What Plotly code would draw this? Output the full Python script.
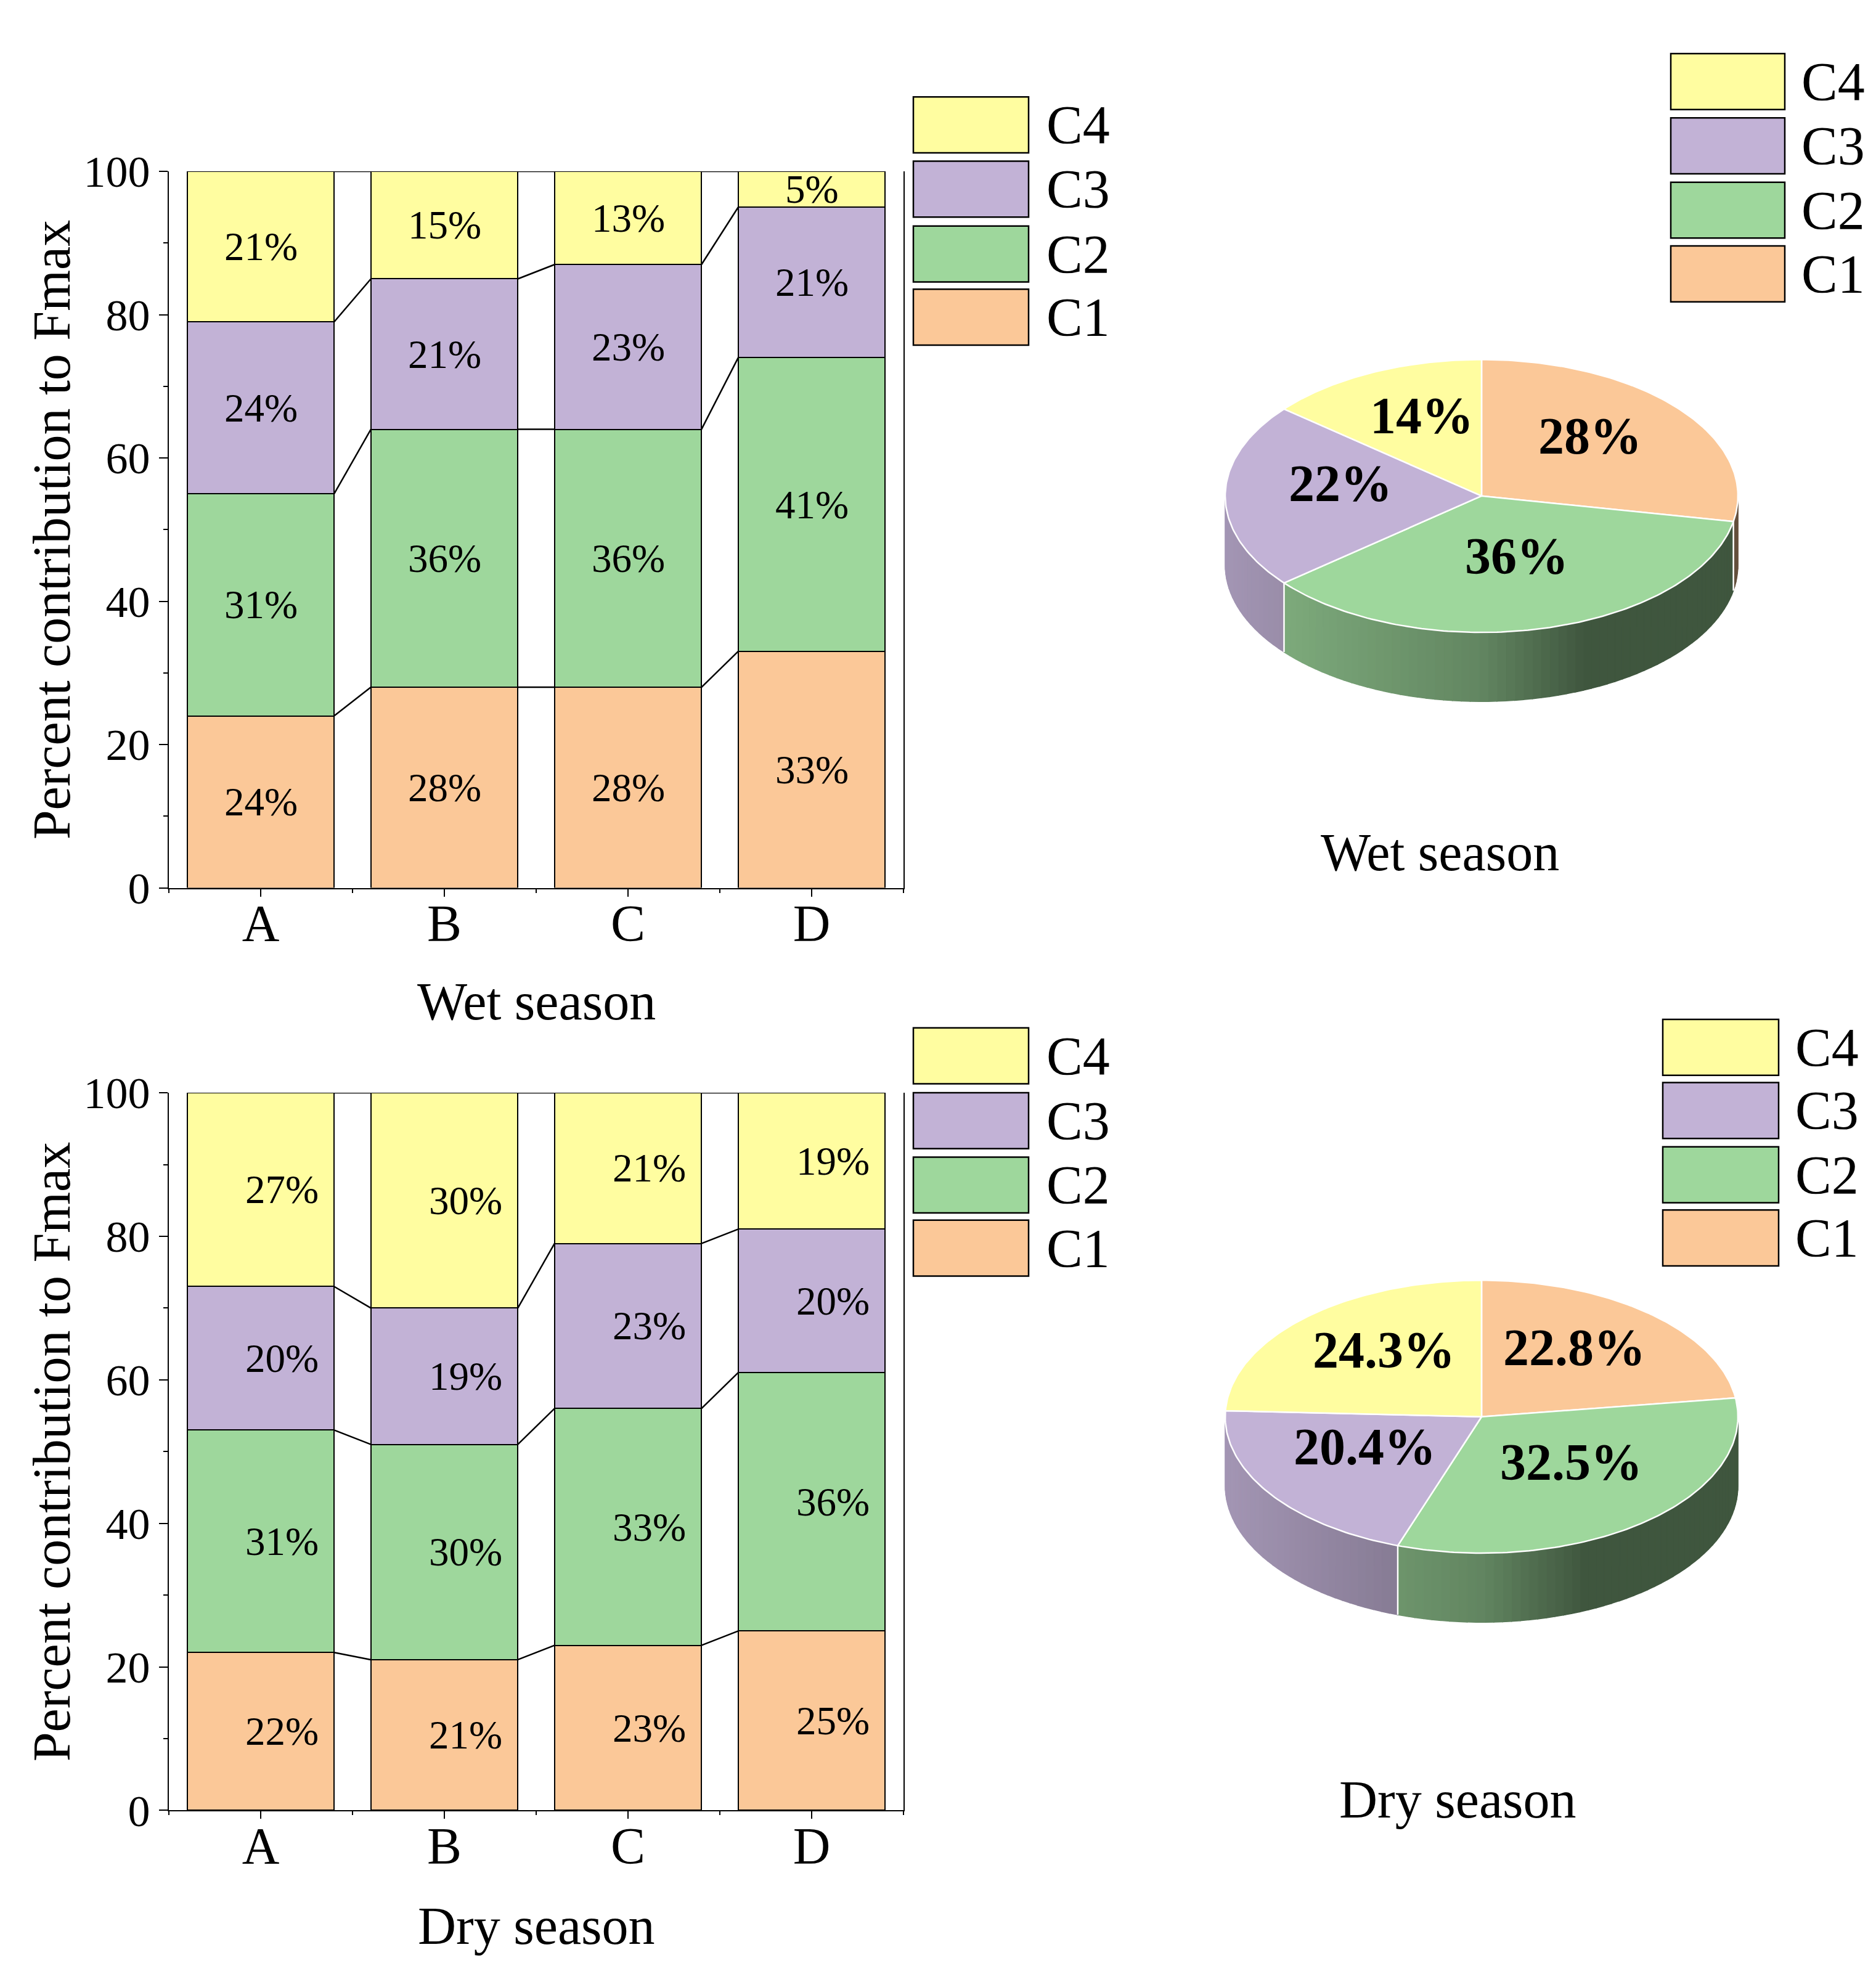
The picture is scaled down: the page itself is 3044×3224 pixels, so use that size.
import numpy as np
import plotly.graph_objects as go

# ---------------- data ----------------
categories = ["A", "B", "C", "D"]
series = ["C1", "C2", "C3", "C4"]

wet_C1 = [24, 28, 28, 33]
wet_C2 = [31, 36, 36, 41]
wet_C3 = [24, 21, 23, 21]
wet_C4 = [21, 15, 13, 5]

dry_C1 = [22, 21, 23, 25]
dry_C2 = [31, 30, 33, 36]
dry_C3 = [20, 19, 23, 20]
dry_C4 = [27, 30, 21, 19]

wet_pie = [28, 36, 22, 14]
dry_pie = [22.8, 32.5, 20.4, 24.3]

y_ticks = [0, 20, 40, 60, 80, 100]

# ---------------- style ----------------
COLORS = {"C1": (251, 200, 152), "C2": (158, 215, 156),
          "C3": (194, 178, 214), "C4": (255, 253, 160)}
FONT = "Liberation Serif"
W, H = 3044, 3224
LW = 2


def rgb(c, f=1.0):
    return "rgb(%d,%d,%d)" % tuple(int(round(v * f)) for v in c)


def px_x(p):
    return p / W


def px_y(p):
    return 1 - p / H


def paper_text(x, y, text, size, xanchor="center", **kw):
    return dict(x=px_x(x), y=px_y(y), xref="paper", yref="paper", text=text,
                showarrow=False, xanchor=xanchor, yanchor="middle",
                font=dict(family=FONT, size=size, color="black"), **kw)


fig = go.Figure()
annotations = []
shapes = []

BAR_W = 0.8

# ---------------- stacked bar panels ----------------
panels = [
    dict(ax="x", ay="y", data=[wet_C1, wet_C2, wet_C3, wet_C4], top=237, bottom=1429,
         title="Wet season", title_y=1618, xshift=0),
    dict(ax="x2", ay="y2", data=[dry_C1, dry_C2, dry_C3, dry_C4], top=1770, bottom=2964,
         title="Dry season", title_y=3156, xshift=34),
]
xidx = list(range(len(categories)))

for p in panels:
    cum = np.zeros(len(categories))
    levels = []
    for name, vals in zip(series, p["data"]):
        fig.add_trace(go.Bar(
            x=xidx, y=vals, name=name, width=BAR_W,
            marker=dict(color=rgb(COLORS[name]), line=dict(color="black", width=LW)),
            xaxis=p["ax"], yaxis=p["ay"], showlegend=False, hoverinfo="skip"))
        for i, v in enumerate(vals):
            annotations.append(dict(
                x=xidx[i], y=cum[i] + v / 2, xref=p["ax"], yref=p["ay"],
                text=f"{v}%", showarrow=False, xshift=p["xshift"],
                xanchor="center", yanchor="middle",
                font=dict(family=FONT, size=65, color="black")))
        cum = cum + np.array(vals)
        levels.append(cum.copy())
    # connector lines between adjacent bars
    for lv in levels:
        xs, ys = [], []
        for i in range(len(categories) - 1):
            xs += [xidx[i] + BAR_W / 2, xidx[i + 1] - BAR_W / 2, None]
            ys += [lv[i], lv[i + 1], None]
        fig.add_trace(go.Scatter(x=xs, y=ys, mode="lines",
                                 line=dict(color="black", width=LW + 0.5),
                                 xaxis=p["ax"], yaxis=p["ay"],
                                 showlegend=False, hoverinfo="skip"))
    annotations.append(paper_text(862, p["title_y"], p["title"], 86))
    annotations.append(paper_text(76, (p["top"] + p["bottom"]) / 2,
                                  "Percent contribution to Fmax", 86, textangle=-90))

# ---------------- 3D-like pies ----------------
B = 227 / 416   # ellipse flattening
D = 115 / 416   # depth of the pie side


def side_factor(u):
    if u <= 0:
        return 0.62 - 0.22 * u
    return max(0.40, 0.62 - 0.55 * u)


pies = [
    dict(ax="x3", ay="y3", vals=wet_pie, title="Wet season", tx=2328, ty=1370),
    dict(ax="x4", ay="y4", vals=dry_pie, title="Dry season", tx=2357, ty=2946),
]
for p in pies:
    vals = np.array(p["vals"], dtype=float)
    frac = vals / vals.sum()
    ends = np.cumsum(frac) * 360.0
    starts = ends - frac * 360.0
    # side walls (visible part: 90..270 deg clockwise from 12 o'clock)
    for name, s, e in zip(series, starts, ends):
        a0, a1 = max(s, 90.0), min(e, 270.0)
        if a1 <= a0:
            continue
        nstrip = max(1, int(np.ceil((a1 - a0) / 2.0)))
        edges = np.linspace(a0, a1, nstrip + 1)
        for t0, t1 in zip(edges[:-1], edges[1:]):
            th = np.radians([t0, t1])
            xs = np.sin(th)
            ys = B * np.cos(th)
            col = rgb(COLORS[name], side_factor(np.sin(np.radians((t0 + t1) / 2))))
            fig.add_trace(go.Scatter(
                x=[xs[0], xs[1], xs[1], xs[0], xs[0]],
                y=[ys[0], ys[1], ys[1] - D, ys[0] - D, ys[0]],
                mode="lines", fill="toself", fillcolor=col,
                line=dict(color=col, width=1.5),
                xaxis=p["ax"], yaxis=p["ay"], showlegend=False, hoverinfo="skip"))
    # white separators on the side
    for bnd in starts:
        if 90.0 < bnd < 270.0:
            t = np.radians(bnd)
            fig.add_trace(go.Scatter(
                x=[np.sin(t), np.sin(t)], y=[B * np.cos(t), B * np.cos(t) - D],
                mode="lines", line=dict(color="white", width=2.5),
                xaxis=p["ax"], yaxis=p["ay"], showlegend=False, hoverinfo="skip"))
    # top face slices
    for name, s, e, v in zip(series, starts, ends, vals):
        th = np.radians(np.linspace(s, e, max(3, int(e - s) + 2)))
        xs = np.concatenate([[0], np.sin(th), [0]])
        ys = np.concatenate([[0], B * np.cos(th), [0]])
        fig.add_trace(go.Scatter(
            x=xs, y=ys, mode="lines", fill="toself", fillcolor=rgb(COLORS[name]),
            line=dict(color="white", width=2.5),
            xaxis=p["ax"], yaxis=p["ay"], showlegend=False, hoverinfo="skip"))
        m = np.radians((s + e) / 2)
        annotations.append(dict(
            x=0.55 * np.sin(m), y=0.55 * B * np.cos(m), xref=p["ax"], yref=p["ay"],
            text=f"{v:g}%", showarrow=False, yshift=20,
            xanchor="center", yanchor="middle",
            font=dict(family=FONT, size=84, color="black", weight="bold")))
    annotations.append(paper_text(p["tx"], p["ty"], p["title"], 86))

# ---------------- manual legends ----------------
legends = [
    dict(x0=1474, x1=1661, tx=1688, tops=[113, 220, 328, 433]),
    dict(x0=1474, x1=1661, tx=1688, tops=[1662, 1770, 1877, 1982]),
    dict(x0=2703, x1=2888, tx=2913, tops=[41, 148, 255, 361]),
    dict(x0=2690, x1=2878, tx=2903, tops=[1648, 1753, 1860, 1965]),
]
BOX_H = 93
for lg in legends:
    for name, top in zip(reversed(series), lg["tops"]):
        shapes.append(dict(type="rect", xref="paper", yref="paper",
                           x0=px_x(lg["x0"]), x1=px_x(lg["x1"]),
                           y0=px_y(top + BOX_H), y1=px_y(top),
                           fillcolor=rgb(COLORS[name]), line=dict(color="black", width=LW + 0.5)))
        annotations.append(paper_text(lg["tx"], top + BOX_H / 2, name, 88, xanchor="left"))


# ---------------- axes ----------------
def bar_xaxis(anchor):
    return dict(domain=[px_x(266), px_x(1458)], range=[-0.5, 3.5], anchor=anchor,
                tickmode="array", tickvals=xidx, ticktext=categories,
                ticks="outside", ticklen=12, tickwidth=LW, tickcolor="black",
                ticklabelstandoff=-28,
                minor=dict(tickmode="array", tickvals=[-0.5, 0.5, 1.5, 2.5, 3.5],
                           ticks="outside", ticklen=6, tickwidth=LW, tickcolor="black"),
                showline=True, linecolor="black", linewidth=LW, mirror=False,
                showgrid=False, zeroline=False,
                tickfont=dict(family=FONT, size=84, color="black"), fixedrange=True)


def bar_yaxis(anchor, top, bottom):
    return dict(domain=[px_y(bottom), px_y(top)], range=[0, 100], anchor=anchor,
                tickmode="array", tickvals=y_ticks,
                ticks="outside", ticklen=14, tickwidth=LW, tickcolor="black",
                minor=dict(dtick=10, tick0=0, ticks="outside", ticklen=7,
                           tickwidth=LW, tickcolor="black"),
                showline=True, linecolor="black", linewidth=LW, mirror=True,
                showgrid=False, zeroline=False,
                tickfont=dict(family=FONT, size=72, color="black"), fixedrange=True)


def pie_axes(cy, anchor_x, anchor_y):
    s = 416.0
    left, right = 2396 - 540, 2396 + 540
    top, bottom = cy - 300, cy + 400
    xa = dict(domain=[px_x(left), px_x(right)], range=[-540 / s, 540 / s],
              visible=False, fixedrange=True, anchor=anchor_y)
    ya = dict(domain=[px_y(bottom), px_y(top)], range=[-400 / s, 300 / s],
              visible=False, fixedrange=True, anchor=anchor_x)
    return xa, ya


x3, y3 = pie_axes(777, "x3", "y3")
x4, y4 = pie_axes(2309, "x4", "y4")

fig.update_layout(
    width=W, height=H, margin=dict(l=0, r=0, t=0, b=0),
    paper_bgcolor="white", plot_bgcolor="rgba(0,0,0,0)",
    barmode="stack", showlegend=False,
    xaxis=bar_xaxis("y"), yaxis=bar_yaxis("x", 237, 1429),
    xaxis2=bar_xaxis("y2"), yaxis2=bar_yaxis("x2", 1770, 2964),
    xaxis3=x3, yaxis3=y3, xaxis4=x4, yaxis4=y4,
    annotations=annotations, shapes=shapes,
    font=dict(family=FONT, color="black"),
)

fig.write_html("out.html")
